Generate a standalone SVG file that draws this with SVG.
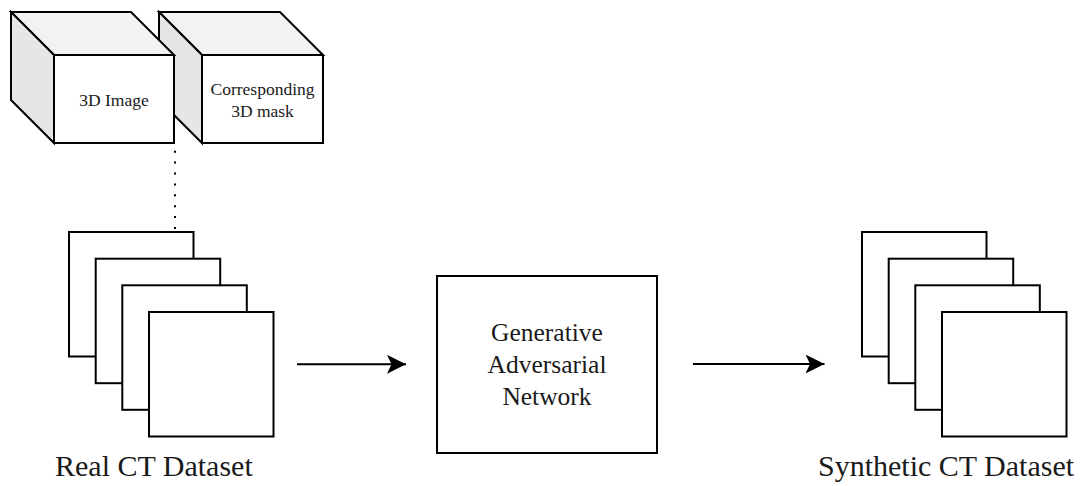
<svg xmlns="http://www.w3.org/2000/svg" width="1086" height="486" viewBox="0 0 1086 486">
  <defs>
    <marker id="arrow" markerUnits="userSpaceOnUse" markerWidth="20" markerHeight="20" viewBox="0 0 20 20" refX="19" refY="9.5" orient="auto">
      <path d="M0,0 L19,9.5 L0,19 L4.5,9.5 Z" fill="#000"/>
    </marker>
  </defs>
  <style>
    .edge { stroke: #000; stroke-width: 2; stroke-linejoin: miter; }
    .front { fill: #fff; }
    .top { fill: #f2f2f2; }
    .side { fill: #e6e6e6; }
    .slide { fill: #fff; stroke: #000; stroke-width: 2; }
    .txt { font-family: "Liberation Serif", "Times New Roman", serif; fill: #1a1a1a; }
    .small { font-size: 17.5px; }
    .mid { font-size: 25.5px; }
    .big { font-size: 30px; }
    .conn { stroke: #000; stroke-width: 2; fill: none; }
  </style>
  <rect x="0" y="0" width="1086" height="486" fill="#fff"/>

  <g id="mask-cube">
    <polygon class="top edge" points="159,12 280,12 323,55 202,55"/>
    <polygon class="side edge" points="159,12 202,55 202,143 159,100"/>
    <rect class="front edge" x="202" y="55" width="121" height="88"/>
    <text class="txt small" x="262.5" y="94.5" text-anchor="middle">Corresponding</text>
    <text class="txt small" x="262.5" y="116.5" text-anchor="middle">3D mask</text>
  </g>

  <g id="image-cube">
    <polygon class="top edge" points="11,12 131,12 174,55 54,55"/>
    <polygon class="side edge" points="11,12 54,55 54,143 11,100"/>
    <rect class="front edge" x="54" y="55" width="120" height="88"/>
    <text class="txt small" x="114" y="105.5" text-anchor="middle">3D Image</text>
  </g>

  <g id="real-ct-dataset">
    <rect class="slide" x="69" y="232" width="124.5" height="124.5"/>
    <rect class="slide" x="95.7" y="258.7" width="124.5" height="124.5"/>
    <rect class="slide" x="122.3" y="285.3" width="124.5" height="124.5"/>
    <rect class="slide" x="149" y="312" width="124.5" height="124.5"/>
    <text class="txt big" x="55" y="476">Real CT Dataset</text>
  </g>

  <g id="gan">
    <rect class="slide" x="437" y="276" width="220" height="177"/>
    <text class="txt mid" x="547" y="340.5" text-anchor="middle">Generative</text>
    <text class="txt mid" x="547" y="372.5" text-anchor="middle">Adversarial</text>
    <text class="txt mid" x="547" y="404.5" text-anchor="middle">Network</text>
  </g>

  <g id="synthetic-ct-dataset">
    <rect class="slide" x="862" y="232" width="124.5" height="124.5"/>
    <rect class="slide" x="888.7" y="258.7" width="124.5" height="124.5"/>
    <rect class="slide" x="915.3" y="285.3" width="124.5" height="124.5"/>
    <rect class="slide" x="942" y="312" width="124.5" height="124.5"/>
    <text class="txt big" x="818" y="476">Synthetic CT Dataset</text>
  </g>

  <g id="connectors">
    <line class="conn" x1="175" y1="150.7" x2="175" y2="232" stroke-dasharray="2 8.9"/>
    <line class="conn" x1="297" y1="364.3" x2="406" y2="364.3" marker-end="url(#arrow)"/>
    <line class="conn" x1="693" y1="364" x2="824.5" y2="364" marker-end="url(#arrow)"/>
  </g>
</svg>
